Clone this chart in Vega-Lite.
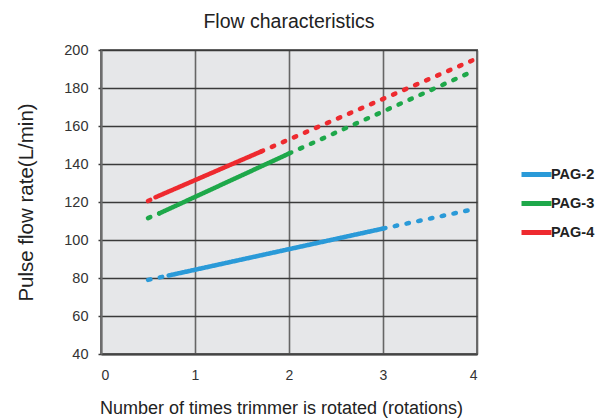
{
  "$schema": "https://vega.github.io/schema/vega-lite/v6.json",
  "width": 376,
  "height": 304,
  "autosize": {"type": "none"},
  "padding": {"left": 101, "top": 50, "right": 125, "bottom": 64},
  "background": "white",
  "title": {"text": "Flow characteristics", "fontSize": 19.5, "font": "Liberation Sans", "fontWeight": "normal", "color": "#222", "offset": 10, "anchor": "middle"},
  "config": {
    "view": {"fill": "#e6e7e9", "stroke": "#6e6e6e", "strokeWidth": 2},
    "font": "Liberation Sans"
  },
  "data": {"values": [
    {"series": "PAG-2", "seg": "2a", "style": "dotted", "x": 0.5, "y": 79},
    {"series": "PAG-2", "seg": "2a", "style": "dotted", "x": 0.72, "y": 81.3},
    {"series": "PAG-2", "seg": "2b", "style": "solid", "x": 0.72, "y": 81.3},
    {"series": "PAG-2", "seg": "2b", "style": "solid", "x": 3, "y": 106},
    {"series": "PAG-2", "seg": "2c", "style": "dotted", "x": 3, "y": 106},
    {"series": "PAG-2", "seg": "2c", "style": "dotted", "x": 3.9, "y": 115.5},
    {"series": "PAG-3", "seg": "3a", "style": "dotted", "x": 0.5, "y": 111.5},
    {"series": "PAG-3", "seg": "3a", "style": "dotted", "x": 0.62, "y": 114},
    {"series": "PAG-3", "seg": "3b", "style": "solid", "x": 0.62, "y": 114},
    {"series": "PAG-3", "seg": "3b", "style": "solid", "x": 2, "y": 145.5},
    {"series": "PAG-3", "seg": "3c", "style": "dotted", "x": 2, "y": 145.5},
    {"series": "PAG-3", "seg": "3c", "style": "dotted", "x": 3.92, "y": 188},
    {"series": "PAG-4", "seg": "4a", "style": "dotted", "x": 0.5, "y": 120.5},
    {"series": "PAG-4", "seg": "4a", "style": "dotted", "x": 0.58, "y": 122.5},
    {"series": "PAG-4", "seg": "4b", "style": "solid", "x": 0.58, "y": 122.5},
    {"series": "PAG-4", "seg": "4b", "style": "solid", "x": 1.7, "y": 146.5},
    {"series": "PAG-4", "seg": "4c", "style": "dotted", "x": 1.7, "y": 146.5},
    {"series": "PAG-4", "seg": "4c", "style": "dotted", "x": 3.95, "y": 194.5}
  ]},
  "mark": {"type": "line", "strokeWidth": 4.5, "strokeCap": "round"},
  "encoding": {
    "x": {"field": "x", "type": "quantitative", "scale": {"domain": [0, 4], "nice": false, "zero": false},
      "axis": {"title": "Number of times trimmer is rotated (rotations)", "values": [0, 1, 2, 3, 4], "format": "d",
        "grid": true, "gridColor": "#666", "gridWidth": 1.6, "gridOpacity": 1, "domain": true, "domainColor": "#444", "domainWidth": 2,
        "ticks": false, "labelPadding": 14, "labelFontSize": 14, "labelColor": "#333", "labelFont": "Liberation Sans",
        "titleFontSize": 18, "titleFontWeight": "normal", "titleColor": "#222", "titlePadding": 17, "titleFont": "Liberation Sans", "titleX": 180}},
    "y": {"field": "y", "type": "quantitative", "scale": {"domain": [40, 200], "nice": false, "zero": false},
      "axis": {"title": "Pulse flow rate(L/min)", "values": [40, 60, 80, 100, 120, 140, 160, 180, 200],
        "grid": true, "gridColor": "#3a3a3a", "gridWidth": 1.5, "gridOpacity": 1, "domain": true, "domainColor": "#6e6e6e", "domainWidth": 2,
        "ticks": true, "tickSize": 3, "tickColor": "#3a3a3a", "tickWidth": 1.5, "labelPadding": 10, "labelFontSize": 14.5, "labelColor": "#333", "labelFont": "Liberation Sans",
        "titleFontSize": 20.5, "titleFontWeight": "normal", "titleColor": "#222", "titlePadding": 27, "titleFont": "Liberation Sans"}},
    "color": {"field": "series", "type": "nominal",
      "scale": {"domain": ["PAG-2", "PAG-3", "PAG-4"], "range": ["#2a9ad8", "#1ea84a", "#ee2a2f"]},
      "legend": {"title": null, "orient": "none", "legendX": 418, "legendY": 107, "symbolType": "stroke", "symbolSize": 900,
        "symbolStrokeWidth": 5, "labelFontSize": 14.5, "labelFontWeight": "bold", "labelColor": "#222", "labelOffset": -3, "rowPadding": 1,
        "labelFont": "Liberation Sans"}},
    "strokeDash": {"field": "style", "type": "nominal", "scale": {"domain": ["solid", "dotted"], "range": [[1, 0], [2.5, 9.5]]}, "legend": null},
    "detail": {"field": "seg"}
  }
}
